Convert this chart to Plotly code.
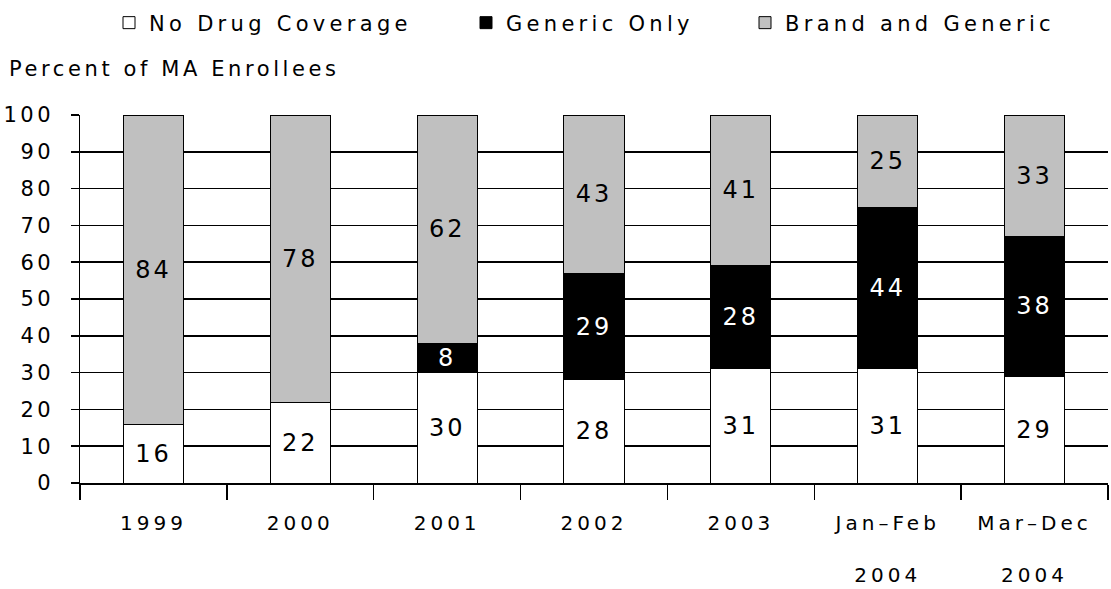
import plotly.graph_objects as go

# ---- data ----
categories = ["1999", "2000", "2001", "2002", "2003", "Jan–Feb 2004", "Mar–Dec 2004"]
no_drug = [16, 22, 30, 28, 31, 31, 29]
generic_only = [0, 0, 8, 29, 28, 44, 38]
brand_generic = [84, 78, 62, 43, 41, 25, 33]
series_names = ["No Drug Coverage", "Generic Only", "Brand and Generic"]
y_ticks = list(range(0, 101, 10))
y_title = "Percent of MA Enrollees"

# ---- layout constants ----
FONT = "DejaVu Sans"
FS = 21          # general text size
FS_X = 20        # category label size
FS_BAR = 24      # data label size
SP = 3.6         # letter spacing (px)
W, H = 1111, 589
L, R, T, B = 80, 3, 115, 106
PW, PH = W - L - R, H - T - B


def px_x(px):
    return (px - L) / PW


def px_y(py):
    return (H - B - py) / PH


def spaced(s, sp=SP):
    """Wrap text in a span with extra letter spacing (each line separately)."""
    return "<br>".join(
        (f'<span style="letter-spacing:{sp}px">{line}</span>' if line else "")
        for line in s.split("<br>")
    )


ticktext = [spaced(c.replace(" ", "<br><br>", 1), 4.0) for c in categories]
ytext = [spaced(str(v)) for v in y_ticks]

series = [no_drug, generic_only, brand_generic]
fills = ["#FFFFFF", "#000000", "#C0C0C0"]
text_colors = ["#000000", "#FFFFFF", "#000000"]
legend_ids = ["legend", "legend2", "legend3"]
legend_left_px = [109, 466, 745]

fig = go.Figure()
for vals, name, fill, tc, lg in zip(series, series_names, fills, text_colors, legend_ids):
    fig.add_trace(go.Bar(
        x=categories, y=vals, name=spaced(name, 4.3),
        marker=dict(color=fill, line=dict(color="#000000", width=1)),
        text=[spaced(str(v), 3) if v else "" for v in vals],
        textposition="inside", insidetextanchor="middle", textangle=0,
        textfont=dict(family=FONT, size=FS_BAR, color=tc),
        hoverinfo="skip", legend=lg, showlegend=True,
    ))

legend_common = dict(orientation="h", yanchor="middle", xanchor="left",
                     y=px_y(23), font=dict(family=FONT, size=FS, color="#000000"),
                     bgcolor="rgba(0,0,0,0)", borderwidth=0)

fig.update_layout(
    width=W, height=H,
    margin=dict(l=L, r=R, t=T, b=B, pad=0, autoexpand=False),
    paper_bgcolor="white", plot_bgcolor="white",
    showlegend=True,
    barmode="stack", bargap=0.59,
    font=dict(family=FONT, size=FS, color="#000000"),
    uniformtext=dict(minsize=FS_BAR, mode="show"),
    legend=dict(x=px_x(legend_left_px[0]), **legend_common),
    legend2=dict(x=px_x(legend_left_px[1]), **legend_common),
    legend3=dict(x=px_x(legend_left_px[2]), **legend_common),
    xaxis=dict(
        type="category", tickmode="array", tickvals=categories, ticktext=ticktext,
        showline=True, linecolor="#000000", linewidth=1.5,
        ticks="outside", tickson="boundaries", ticklen=15, tickwidth=1.5, tickcolor="#000000",
        showgrid=False, ticklabelstandoff=21, automargin=False,
        tickfont=dict(family=FONT, size=FS_X, color="#000000"),
        range=[-0.5, len(categories) - 0.5],
    ),
    yaxis=dict(
        range=[0, 100], tickmode="array", tickvals=y_ticks, ticktext=ytext,
        showline=True, linecolor="#000000", linewidth=1.5,
        ticks="outside", ticklen=8, tickwidth=1.5, tickcolor="#000000",
        showgrid=True, gridcolor="#000000", gridwidth=1.5,
        zeroline=False, ticklabelstandoff=12, automargin=False,
        tickfont=dict(family=FONT, size=FS, color="#000000"),
    ),
    annotations=[dict(
        text=spaced(y_title), xref="paper", yref="paper", x=px_x(7), y=px_y(69),
        xanchor="left", yanchor="middle", showarrow=False,
        font=dict(family=FONT, size=FS, color="#000000"),
    )],
)

fig.write_html("out.html", config={"displayModeBar": False, "staticPlot": True})
